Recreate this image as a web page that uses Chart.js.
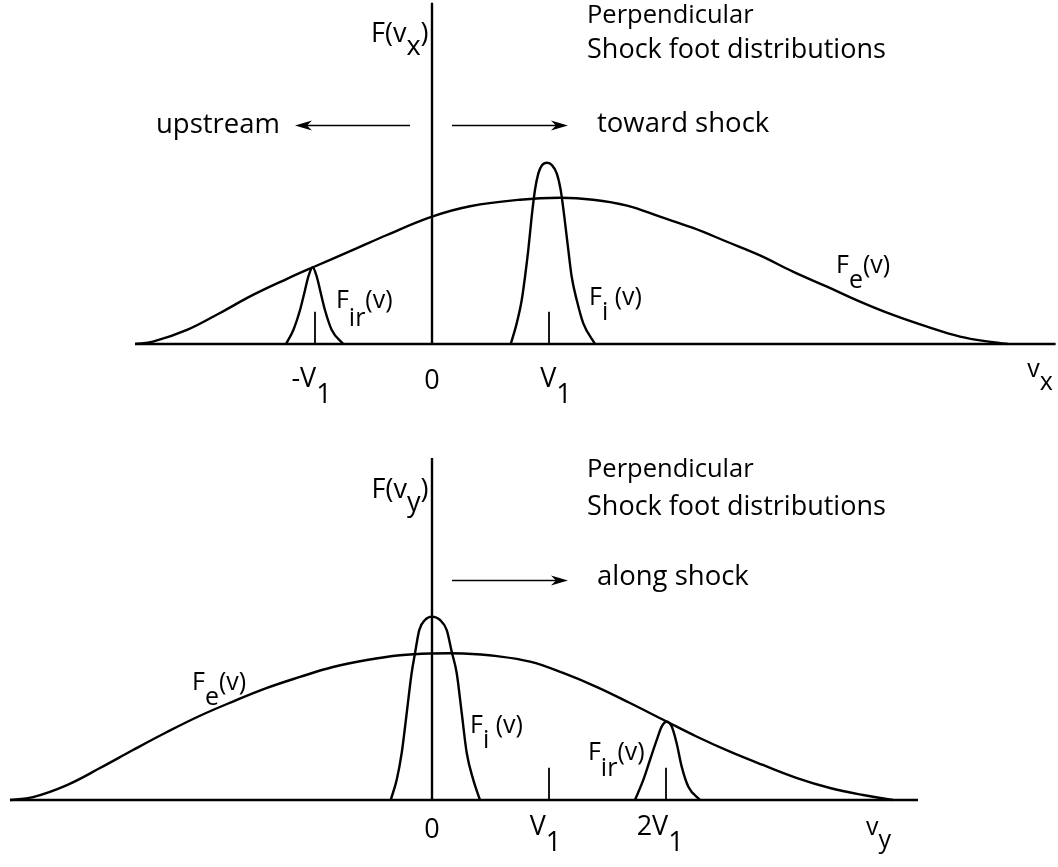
<!DOCTYPE html>
<html><head><meta charset="utf-8">
<script src="https://cdn.jsdelivr.net/npm/chart.js@4/dist/chart.umd.min.js"></script>
<style>
html,body{margin:0;padding:0;background:#fff;}
#wrap{position:relative;width:1058px;height:867px;background:#fff;}
canvas{position:absolute;left:0;}
#c1{top:0;} #c2{top:430px;}
</style></head><body>
<div id="wrap">
<canvas id="c1" width="1058" height="430"></canvas>
<canvas id="c2" width="1058" height="437"></canvas>
</div>
<script>
// ---------- DATA (v in units of V1, F in units of the electron peak) ----------
// Top panel: v_x
const topFeV = [-2.538,-2.385,-2.094,-1.812,-1.530,-1.239,-1.017,-0.675,-0.385,0.0,0.325,0.752,1.094,1.376,1.667,1.949,2.231,2.521,2.803,3.085,3.376,3.658,3.940,4.231,4.513,4.795,4.923];
const topFeF = [0,0.016,0.096,0.212,0.335,0.445,0.524,0.642,0.744,0.869,0.940,0.985,0.998,0.985,0.945,0.869,0.792,0.698,0.605,0.494,0.391,0.289,0.198,0.118,0.050,0.012,0];
const topFiV = [0.673,0.724,0.767,0.795,0.823,0.852,0.880,0.909,0.940,0.985,1.026,1.066,1.100,1.131,1.165,1.194,1.237,1.293,1.393];
const topFiF = [0,0.141,0.300,0.459,0.642,0.869,1.051,1.165,1.220,1.237,1.220,1.165,1.051,0.869,0.642,0.459,0.300,0.141,0];
const topFirV = [-1.248,-1.185,-1.128,-1.085,-1.057,-1.020,-0.985,-0.957,-0.915,-0.857,-0.758];
const topFirF = [0,0.096,0.232,0.369,0.460,0.524,0.460,0.369,0.232,0.096,0];
const topTicks = [-1, 1];
const topAxisX = [-2.538, 5.33];
const topAxisTop = 2.33;

// Bottom panel: v_y
const botFeV = [-3.607,-3.410,-3.120,-2.838,-2.556,-2.265,-1.983,-1.701,-1.410,-1.128,-0.846,-0.556,-0.274,0.0,0.265,0.556,0.838,1.120,1.410,1.692,2.009,2.265,2.547,2.829,3.120,3.402,3.684,3.940];
const botFeF = [0,0.020,0.102,0.218,0.341,0.464,0.575,0.672,0.765,0.840,0.908,0.956,0.988,1.000,1.000,0.982,0.944,0.867,0.771,0.662,0.534,0.432,0.330,0.239,0.150,0.082,0.034,0];
const botFiV = [-0.353,-0.302,-0.259,-0.216,-0.174,-0.145,-0.109,-0.060,0,0.068,0.126,0.168,0.211,0.254,0.297,0.353,0.410];
const botFiF = [0,0.137,0.321,0.594,0.867,1.003,1.160,1.229,1.252,1.229,1.160,1.013,0.867,0.594,0.321,0.137,0];
const botFirV = [1.735,1.806,1.863,1.921,1.963,2.006,2.049,2.091,2.134,2.191,2.291];
const botFirF = [0,0.137,0.273,0.410,0.501,0.534,0.501,0.387,0.228,0.091,0];
const botTicks = [1, 2];
const botAxisX = [-3.607, 4.154];
const botAxisTop = 2.334;

const tickHeight = 0.22;

// ---------- helpers ----------
const FONT = '"Open Sans", "Noto Sans", "DejaVu Sans", sans-serif';
const pts = (vs, fs) => vs.map((v, i) => ({x: v, y: fs[i]}));
const broad = (vs, fs) => ({data: pts(vs, fs), borderColor: '#000', borderWidth: 2.4, pointRadius: 0, tension: 0.4, fill: false});
const peak = (vs, fs) => ({data: pts(vs, fs), borderColor: '#000', borderWidth: 2.4, pointRadius: 0, cubicInterpolationMode: 'monotone', fill: false});
const straight = (d, w) => ({data: d, borderColor: '#000', borderWidth: w, pointRadius: 0, tension: 0, fill: false});

const labelPlugin = {
  id: 'richLabels',
  afterDatasetsDraw(chart, args, opts) {
    const {ctx} = chart; const xs = chart.scales.x, ys = chart.scales.y;
    ctx.save();
    ctx.fillStyle = '#000'; ctx.strokeStyle = '#000';
    (opts.arrows || []).forEach(a => {
      const x0 = xs.getPixelForValue(a.from), x1 = xs.getPixelForValue(a.to), yy = Math.round(ys.getPixelForValue(a.y)) + 0.5;
      const dir = Math.sign(x1 - x0);
      ctx.lineWidth = 1.4;
      ctx.beginPath(); ctx.moveTo(x0, yy); ctx.lineTo(x1 - dir * 8, yy); ctx.stroke();
      ctx.beginPath();
      ctx.moveTo(x1, yy);
      ctx.lineTo(x1 - dir * 17, yy - 5);
      ctx.lineTo(x1 - dir * 12, yy);
      ctx.lineTo(x1 - dir * 17, yy + 5);
      ctx.closePath(); ctx.fill();
    });
    ctx.textBaseline = 'alphabetic';
    (opts.items || []).forEach(it => {
      ctx.font = `${it.size || 25}px ${FONT}`;
      const w = it.parts.reduce((s, p) => s + ctx.measureText(p[0]).width, 0);
      let px = xs.getPixelForValue(it.v);
      const py = ys.getPixelForValue(it.F);
      if (it.align === 'center') px -= w / 2; else if (it.align === 'right') px -= w;
      it.parts.forEach(p => { ctx.fillText(p[0], px, py + (p[1] || 0)); px += ctx.measureText(p[0]).width; });
    });
    ctx.restore();
  }
};

function makeChart(id, broadCurve, peaks, axisX, axisTop, ticks, xRange, yRange, items, arrows) {
  const ds = [broad(broadCurve[0], broadCurve[1])];
  peaks.forEach(c => ds.push(peak(c[0], c[1])));
  ds.push(straight([{x: axisX[0], y: 0}, {x: axisX[1], y: 0}], 2.4));
  ds.push(straight([{x: 0, y: 0}, {x: 0, y: axisTop}], 2.4));
  ticks.forEach(t => ds.push(straight([{x: t, y: 0}, {x: t, y: tickHeight}], 1.8)));
  return new Chart(document.getElementById(id), {
    type: 'line',
    data: {datasets: ds},
    options: {
      responsive: false, animation: false, events: [],
      layout: {padding: 0},
      plugins: {legend: {display: false}, tooltip: {enabled: false}, richLabels: {items, arrows}},
      scales: {
        x: {type: 'linear', display: false, min: xRange[0], max: xRange[1]},
        y: {type: 'linear', display: false, min: yRange[0], max: yRange[1]}
      }
    },
    plugins: [labelPlugin]
  });
}

const SUB = 15;
const xRange = [-432 / 117, 626 / 117];

makeChart('c1',
  [topFeV, topFeF], [[topFiV, topFiF], [topFirV, topFirF]],
  topAxisX, topAxisTop, topTicks, xRange, [-86 / 146.5, 344 / 146.5],
  [
    {v: -0.03, F: 2.061, align: 'right', size: 27, parts: [['F(v'], ['x', 13], [')']]},
    {v: 1.325, F: 2.191, size: 25.5, parts: [['Perpendicular']]},
    {v: 1.325, F: 1.952, size: 27, parts: [['Shock foot distributions']]},
    {v: -2.359, F: 1.440, size: 27.5, parts: [['upstream']]},
    {v: 1.410, F: 1.447, size: 27.5, parts: [['toward shock']]},
    {v: -0.821, F: 0.246, parts: [['F'], ['ir', 18], ['(v)']]},
    {v: 1.342, F: 0.266, parts: [['F'], ['i', SUB], [' (v)']]},
    {v: 3.453, F: 0.485, parts: [['F'], ['e', SUB], ['(v)']]},
    {v: -1.03, F: -0.294, size: 27, align: 'center', parts: [['-V'], ['1', 16]]},
    {v: 0, F: -0.31, size: 27, align: 'center', parts: [['0']]},
    {v: 1.06, F: -0.294, size: 27, align: 'center', parts: [['V'], ['1', 16]]},
    {v: 5.088, F: -0.225, parts: [['v'], ['x', 13]]}
  ],
  [{from: -0.188, to: -1.171, y: 1.495}, {from: 0.171, to: 1.162, y: 1.495}]
);

makeChart('c2',
  [botFeV, botFeF], [[botFiV, botFiF], [botFirV, botFirF]],
  botAxisX, botAxisTop, botTicks, xRange, [-67 / 146.5, 370 / 146.5],
  [
    {v: -0.03, F: 2.061, align: 'right', size: 27, parts: [['F(v'], ['y', 13], [')']]},
    {v: 1.325, F: 2.205, size: 25.5, parts: [['Perpendicular']]},
    {v: 1.325, F: 1.945, size: 27, parts: [['Shock foot distributions']]},
    {v: 1.410, F: 1.468, size: 27.5, parts: [['along shock']]},
    {v: -2.051, F: 0.751, parts: [['F'], ['e', SUB], ['(v)']]},
    {v: 0.325, F: 0.457, parts: [['F'], ['i', SUB], [' (v)']]},
    {v: 1.333, F: 0.273, parts: [['F'], ['ir', 16], ['(v)']]},
    {v: 0, F: -0.26, size: 27, align: 'center', parts: [['0']]},
    {v: 0.97, F: -0.24, size: 27, align: 'center', parts: [['V'], ['1', 16]]},
    {v: 1.95, F: -0.24, size: 27, align: 'center', parts: [['2V'], ['1', 16]]},
    {v: 3.71, F: -0.24, parts: [['v'], ['y', 13]]}
  ],
  [{from: 0.171, to: 1.162, y: 1.502}]
);
</script>
</body></html>
